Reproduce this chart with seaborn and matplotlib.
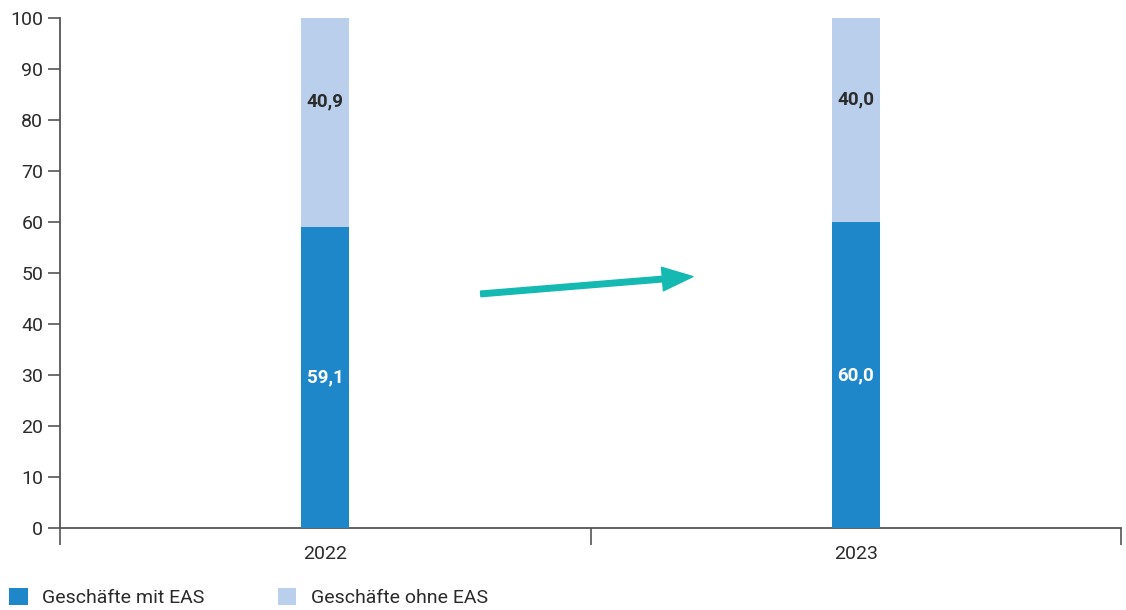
import matplotlib
matplotlib.use("Agg")
import matplotlib.pyplot as plt
from matplotlib.patches import Patch
import seaborn as sns
import pandas as pd

# Anteil der Geschäfte mit / ohne EAS (in %)
years = ["2022", "2023"]
mit_eas = [59.1, 60.0]
ohne_eas = [40.9, 40.0]
series_names = ["Geschäfte mit EAS", "Geschäfte ohne EAS"]
y_ticks = [0, 10, 20, 30, 40, 50, 60, 70, 80, 90, 100]

COLOR_MIT = "#1e87c9"
COLOR_OHNE = "#b9cfeb"
COLOR_ARROW = "#14b9b1"
AXIS_COLOR = "#555555"
TEXT_COLOR = "#2b2b2b"

sns.set_theme(style="white")
plt.rcParams["font.family"] = ["Roboto", "DejaVu Sans"]

df = pd.DataFrame({
    "Jahr": years,
    "mit": mit_eas,
    "ohne": ohne_eas,
})
df["gesamt"] = df["mit"] + df["ohne"]

fig = plt.figure(figsize=(11.26, 6.10), dpi=100)
ax = fig.add_axes([0.0533, 0.1344, 0.9423, 0.8361])

bar_width = 0.09
# upper segment drawn as the full stack, lower segment on top of it
sns.barplot(data=df, x="Jahr", y="gesamt", color=COLOR_OHNE, width=bar_width,
            saturation=1, ax=ax, zorder=2, linewidth=0)
sns.barplot(data=df, x="Jahr", y="mit", color=COLOR_MIT, width=bar_width,
            saturation=1, ax=ax, zorder=3, linewidth=0)

ax.set_xlim(-0.5, 1.5)
ax.set_ylim(0, 100)
ax.set_yticks(y_ticks)
ax.set_yticklabels([str(t) for t in y_ticks])
ax.set_xlabel("")
ax.set_ylabel("")

# value labels
for i in range(len(years)):
    m = mit_eas[i]
    o = ohne_eas[i]
    ax.text(i, m / 2, f"{m:.1f}".replace(".", ","), ha="center", va="center",
            color="white", fontsize=13.5, fontweight="bold", zorder=5)
    ax.text(i, m + o / 2 + 4, f"{o:.1f}".replace(".", ","), ha="center",
            va="center", color=TEXT_COLOR, fontsize=13.5, fontweight="bold",
            zorder=5)

# trend arrow between the two years
ax.annotate("", xy=(0.693, 49.3), xytext=(0.293, 45.9),
            arrowprops=dict(width=4, headwidth=17, headlength=22,
                            color=COLOR_ARROW, shrink=0),
            zorder=6)

# axes styling
for side in ["top", "right"]:
    ax.spines[side].set_visible(False)
for side in ["left", "bottom"]:
    ax.spines[side].set_color(AXIS_COLOR)
    ax.spines[side].set_linewidth(1.3)

ax.tick_params(axis="y", which="major", direction="out", length=9, width=1.2,
               color=AXIS_COLOR, labelsize=14, labelcolor=TEXT_COLOR, pad=3,
               left=True)
# category labels without marks, boundary marks between categories
ax.set_xticks([0, 1])
ax.set_xticklabels(years)
ax.tick_params(axis="x", which="major", length=0, labelsize=14,
               labelcolor=TEXT_COLOR, pad=12, bottom=True)
ax.set_xticks([-0.5, 0.5, 1.5], minor=True)
ax.tick_params(axis="x", which="minor", direction="out", length=12, width=1.2,
               color=AXIS_COLOR, bottom=True)
ax.spines["bottom"].set_bounds(-0.5, 1.5)

handles = [Patch(facecolor=COLOR_MIT, edgecolor="none"),
           Patch(facecolor=COLOR_OHNE, edgecolor="none")]
fig.legend(handles, series_names, loc="lower left", bbox_to_anchor=(-0.002, -0.014),
           ncol=2, frameon=False, fontsize=14, handlelength=0.95,
           handleheight=0.95, handletextpad=0.75, columnspacing=3.75,
           labelcolor=TEXT_COLOR, borderaxespad=0.3, borderpad=0.3)

fig.savefig("out.png", dpi=100)
